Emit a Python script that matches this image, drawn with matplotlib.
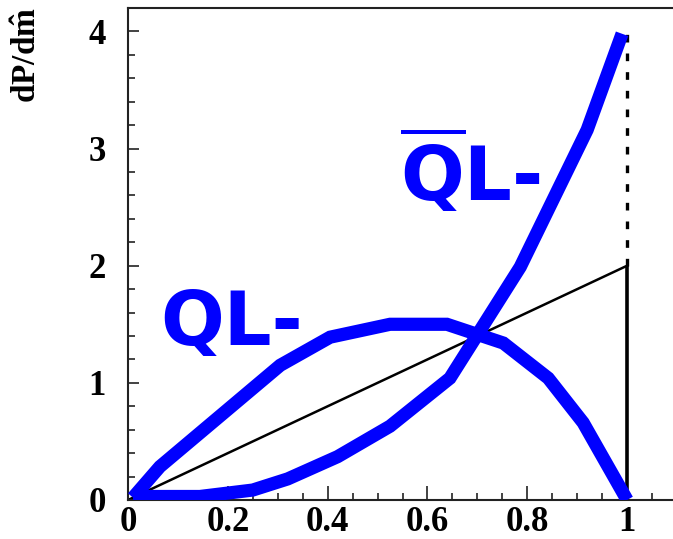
import matplotlib
matplotlib.use("Agg")
import matplotlib.pyplot as plt
from matplotlib.ticker import MultipleLocator

plt.rcParams["mathtext.fontset"] = "custom"
plt.rcParams["mathtext.rm"] = "Liberation Serif:bold"
plt.rcParams["mathtext.it"] = "Liberation Serif:bold"
plt.rcParams["mathtext.bf"] = "Liberation Serif:bold"
plt.rcParams["mathtext.sf"] = "DejaVu Sans:bold"

# polarised decay spectra, dP/dm vs m
ql_x = [0.01, 0.064, 0.305, 0.405, 0.525, 0.639, 0.752, 0.842, 0.912, 1.0]
ql_y = [0.02, 0.285, 1.15, 1.39, 1.50, 1.50, 1.34, 1.04, 0.66, 0.0]

qbar_x = [0.01, 0.144, 0.25, 0.32, 0.42, 0.525, 0.645, 0.786, 0.92, 0.99]
qbar_y = [0.03, 0.03, 0.085, 0.18, 0.37, 0.63, 1.04, 1.99, 3.16, 3.98]

# unpolarised reference (linear) and the endpoint edge
lin_x = [0.0, 1.0]
lin_y = [0.0, 2.0]
edge_x = 1.0
edge_lin_top = 2.0
edge_top = 4.0

W, H = 673, 539
fig = plt.figure(figsize=(W / 100, H / 100), dpi=100)
ax = fig.add_axes([128 / W, 39 / H, 549 / W, 492 / H])

blue = "#0000ff"
ax.plot(lin_x, lin_y, color="black", lw=1.8, zorder=2)
ax.vlines(edge_x, 0, edge_lin_top, color="black", lw=2.6, zorder=2)
ax.vlines(edge_x, edge_lin_top, edge_top, color="black", lw=2.4,
          linestyles=(0, (2.3, 3.3)), zorder=2)
ax.plot(ql_x, ql_y, color=blue, lw=9.5, solid_joinstyle="miter",
        solid_capstyle="butt", zorder=3)
ax.plot(qbar_x, qbar_y, color=blue, lw=9.5, solid_joinstyle="miter",
        solid_capstyle="butt", zorder=3)

ax.text(0.064, 1.32, "QL-", color=blue, fontsize=54, fontweight="bold",
        family="DejaVu Sans", ha="left", va="baseline")
ax.text(0.545, 2.55, r"$\overline{\mathsf{Q}}$L-", color=blue, fontsize=54,
        fontweight="bold", family="DejaVu Sans", ha="left", va="baseline")

ax.set_xlim(0, 1.1)
ax.set_ylim(0, 4.2)
ax.xaxis.set_major_locator(MultipleLocator(0.2))
ax.xaxis.set_minor_locator(MultipleLocator(0.05))
ax.yaxis.set_major_locator(MultipleLocator(1))
ax.yaxis.set_minor_locator(MultipleLocator(0.2))
ax.set_xticks([0, 0.2, 0.4, 0.6, 0.8, 1.0])
ax.set_xticklabels(["0", "0.2", "0.4", "0.6", "0.8", "1"])
ax.set_yticks([0, 1, 2, 3, 4])
ax.set_yticklabels(["0", "1", "2", "3", "4"])

ax.tick_params(axis="both", which="both", direction="in", top=False,
               right=False, color="#222222", width=1.2)
ax.tick_params(axis="x", which="major", length=10, pad=4)
ax.tick_params(axis="x", which="minor", length=5)
ax.tick_params(axis="y", which="major", length=8, pad=16)
ax.tick_params(axis="y", which="minor", length=5)
for lab in ax.get_xticklabels() + ax.get_yticklabels():
    lab.set_family("Liberation Serif")
    lab.set_fontweight("bold")
    lab.set_fontsize(25)

for side in ["left", "bottom", "top", "right"]:
    ax.spines[side].set_linewidth(1.5)
    ax.spines[side].set_color("#222222")

fig.text(28 / W, 1 - 55 / H, r"dP/d$\hat{\mathrm{m}}$", rotation=90,
         family="Liberation Serif", fontweight="bold", fontsize=24,
         ha="center", va="center")

fig.savefig("out.png", dpi=100)
